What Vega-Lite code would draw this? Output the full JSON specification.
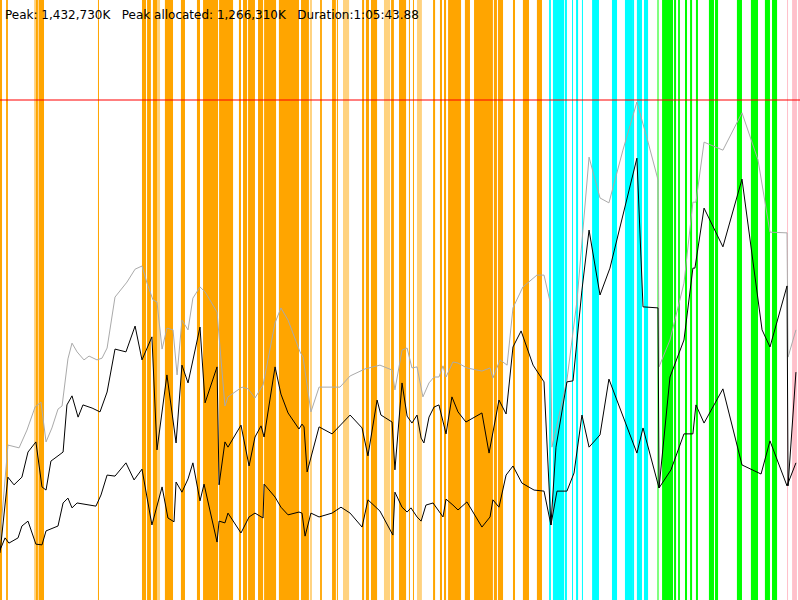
{
  "$schema": "https://vega.github.io/schema/vega-lite/v6.json",
  "width": 800,
  "height": 600,
  "padding": 0,
  "autosize": {"type": "none"},
  "background": "white",
  "title": {
    "text": "Peak: 1,432,730K \u00a0\u00a0Peak allocated: 1,266,310K \u00a0\u00a0Duration:1:05:43.88",
    "anchor": "start",
    "frame": "group",
    "orient": "top",
    "offset": -31,
    "dx": 5,
    "baseline": "alphabetic",
    "font": "DejaVu Sans",
    "fontSize": 12,
    "fontWeight": "normal",
    "color": "black"
  },
  "config": {"view": {"stroke": null}},
  "datasets": {
    "gc": [
      {"kind": "young", "start": 0, "end": 10},
      {"kind": "young", "start": 30, "end": 39},
      {"kind": "young-short", "start": 168, "end": 177},
      {"kind": "young", "start": 177, "end": 187},
      {"kind": "young", "start": 190, "end": 217},
      {"kind": "young", "start": 483, "end": 488},
      {"kind": "young", "start": 700, "end": 720},
      {"kind": "young", "start": 725, "end": 744},
      {"kind": "young", "start": 754, "end": 774},
      {"kind": "young-short", "start": 774, "end": 789},
      {"kind": "young", "start": 813, "end": 853},
      {"kind": "young", "start": 892, "end": 912},
      {"kind": "young", "start": 971, "end": 986},
      {"kind": "young", "start": 1001, "end": 1075},
      {"kind": "young", "start": 1080, "end": 1149},
      {"kind": "young", "start": 1178, "end": 1188},
      {"kind": "young", "start": 1198, "end": 1218},
      {"kind": "young", "start": 1223, "end": 1257},
      {"kind": "young", "start": 1272, "end": 1297},
      {"kind": "young", "start": 1302, "end": 1361},
      {"kind": "young", "start": 1375, "end": 1474},
      {"kind": "young", "start": 1484, "end": 1523},
      {"kind": "young-short", "start": 1528, "end": 1538},
      {"kind": "young", "start": 1578, "end": 1587},
      {"kind": "young", "start": 1637, "end": 1656},
      {"kind": "young", "start": 1661, "end": 1666},
      {"kind": "young-short", "start": 1691, "end": 1721},
      {"kind": "young", "start": 1785, "end": 1795},
      {"kind": "young", "start": 1804, "end": 1819},
      {"kind": "young", "start": 1829, "end": 1859},
      {"kind": "young-short", "start": 1893, "end": 1923},
      {"kind": "young", "start": 1928, "end": 1942},
      {"kind": "young", "start": 1967, "end": 2002},
      {"kind": "young", "start": 2016, "end": 2021},
      {"kind": "young", "start": 2036, "end": 2041},
      {"kind": "young-short", "start": 2056, "end": 2080},
      {"kind": "young", "start": 2135, "end": 2145},
      {"kind": "young", "start": 2169, "end": 2179},
      {"kind": "young", "start": 2189, "end": 2199},
      {"kind": "young", "start": 2209, "end": 2273},
      {"kind": "young", "start": 2292, "end": 2317},
      {"kind": "young", "start": 2337, "end": 2430},
      {"kind": "young", "start": 2435, "end": 2450},
      {"kind": "young", "start": 2455, "end": 2480},
      {"kind": "young", "start": 2529, "end": 2539},
      {"kind": "young", "start": 2578, "end": 2608},
      {"kind": "young", "start": 2647, "end": 2672},
      {"kind": "concurrent", "start": 2707, "end": 2716},
      {"kind": "concurrent", "start": 2726, "end": 2781},
      {"kind": "concurrent", "start": 2785, "end": 2795},
      {"kind": "concurrent", "start": 2820, "end": 2825},
      {"kind": "concurrent", "start": 2840, "end": 2850},
      {"kind": "concurrent", "start": 2869, "end": 2874},
      {"kind": "concurrent", "start": 2919, "end": 2953},
      {"kind": "concurrent", "start": 3017, "end": 3042},
      {"kind": "concurrent", "start": 3081, "end": 3116},
      {"kind": "concurrent", "start": 3116, "end": 3126},
      {"kind": "concurrent", "start": 3140, "end": 3165},
      {"kind": "concurrent", "start": 3175, "end": 3195},
      {"kind": "mixed-short", "start": 3239, "end": 3249},
      {"kind": "mixed", "start": 3264, "end": 3318},
      {"kind": "mixed", "start": 3323, "end": 3333},
      {"kind": "mixed", "start": 3343, "end": 3352},
      {"kind": "mixed", "start": 3377, "end": 3387},
      {"kind": "mixed", "start": 3402, "end": 3412},
      {"kind": "mixed", "start": 3431, "end": 3441},
      {"kind": "mixed", "start": 3495, "end": 3520},
      {"kind": "mixed", "start": 3525, "end": 3540},
      {"kind": "mixed", "start": 3633, "end": 3658},
      {"kind": "mixed", "start": 3702, "end": 3737},
      {"kind": "mixed", "start": 3771, "end": 3796},
      {"kind": "mixed", "start": 3806, "end": 3831},
      {"kind": "full", "start": 3880, "end": 3885},
      {"kind": "full", "start": 3905, "end": 3929},
      {"kind": "full", "start": 3934, "end": 3944}
    ],
    "heap": [
      {"s": "heap", "t": 0, "mb": 172}, {"s": "heap", "t": 39, "mb": 444}, {"s": "heap", "t": 94, "mb": 436},
      {"s": "heap", "t": 133, "mb": 487}, {"s": "heap", "t": 173, "mb": 553}, {"s": "heap", "t": 202, "mb": 567},
      {"s": "heap", "t": 227, "mb": 453}, {"s": "heap", "t": 256, "mb": 493}, {"s": "heap", "t": 286, "mb": 547},
      {"s": "heap", "t": 306, "mb": 556}, {"s": "heap", "t": 335, "mb": 691}, {"s": "heap", "t": 355, "mb": 736},
      {"s": "heap", "t": 380, "mb": 711}, {"s": "heap", "t": 414, "mb": 688}, {"s": "heap", "t": 439, "mb": 699},
      {"s": "heap", "t": 478, "mb": 688}, {"s": "heap", "t": 503, "mb": 693}, {"s": "heap", "t": 528, "mb": 722},
      {"s": "heap", "t": 567, "mb": 868}, {"s": "heap", "t": 626, "mb": 911}, {"s": "heap", "t": 666, "mb": 948},
      {"s": "heap", "t": 700, "mb": 957}, {"s": "heap", "t": 725, "mb": 908}, {"s": "heap", "t": 754, "mb": 860},
      {"s": "heap", "t": 774, "mb": 854}, {"s": "heap", "t": 799, "mb": 719}, {"s": "heap", "t": 823, "mb": 779},
      {"s": "heap", "t": 853, "mb": 774}, {"s": "heap", "t": 873, "mb": 645}, {"s": "heap", "t": 897, "mb": 802},
      {"s": "heap", "t": 927, "mb": 774}, {"s": "heap", "t": 951, "mb": 865}, {"s": "heap", "t": 986, "mb": 897},
      {"s": "heap", "t": 1011, "mb": 883}, {"s": "heap", "t": 1070, "mb": 825}, {"s": "heap", "t": 1094, "mb": 659},
      {"s": "heap", "t": 1109, "mb": 556}, {"s": "heap", "t": 1124, "mb": 582}, {"s": "heap", "t": 1193, "mb": 610},
      {"s": "heap", "t": 1223, "mb": 605}, {"s": "heap", "t": 1257, "mb": 579}, {"s": "heap", "t": 1297, "mb": 616},
      {"s": "heap", "t": 1356, "mb": 794}, {"s": "heap", "t": 1385, "mb": 837}, {"s": "heap", "t": 1420, "mb": 802},
      {"s": "heap", "t": 1479, "mb": 711}, {"s": "heap", "t": 1494, "mb": 696}, {"s": "heap", "t": 1533, "mb": 539},
      {"s": "heap", "t": 1573, "mb": 610}, {"s": "heap", "t": 1676, "mb": 610}, {"s": "heap", "t": 1726, "mb": 642},
      {"s": "heap", "t": 1799, "mb": 662}, {"s": "heap", "t": 1873, "mb": 673}, {"s": "heap", "t": 1933, "mb": 659},
      {"s": "heap", "t": 1947, "mb": 602}, {"s": "heap", "t": 1982, "mb": 716}, {"s": "heap", "t": 2007, "mb": 722},
      {"s": "heap", "t": 2031, "mb": 665}, {"s": "heap", "t": 2056, "mb": 668}, {"s": "heap", "t": 2085, "mb": 582},
      {"s": "heap", "t": 2115, "mb": 622}, {"s": "heap", "t": 2140, "mb": 639}, {"s": "heap", "t": 2164, "mb": 639},
      {"s": "heap", "t": 2184, "mb": 671}, {"s": "heap", "t": 2199, "mb": 639}, {"s": "heap", "t": 2233, "mb": 682},
      {"s": "heap", "t": 2258, "mb": 679}, {"s": "heap", "t": 2302, "mb": 665}, {"s": "heap", "t": 2376, "mb": 656},
      {"s": "heap", "t": 2416, "mb": 665}, {"s": "heap", "t": 2430, "mb": 636}, {"s": "heap", "t": 2465, "mb": 688},
      {"s": "heap", "t": 2500, "mb": 673}, {"s": "heap", "t": 2529, "mb": 837}, {"s": "heap", "t": 2578, "mb": 897},
      {"s": "heap", "t": 2647, "mb": 931}, {"s": "heap", "t": 2682, "mb": 931}, {"s": "heap", "t": 2712, "mb": 854},
      {"s": "heap", "t": 2721, "mb": 438}, {"s": "heap", "t": 2795, "mb": 630}, {"s": "heap", "t": 2845, "mb": 860},
      {"s": "heap", "t": 2904, "mb": 1269}, {"s": "heap", "t": 2958, "mb": 1152}, {"s": "heap", "t": 3002, "mb": 1138},
      {"s": "heap", "t": 3071, "mb": 1289}, {"s": "heap", "t": 3140, "mb": 1427}, {"s": "heap", "t": 3195, "mb": 1312},
      {"s": "heap", "t": 3244, "mb": 1204}, {"s": "heap", "t": 3249, "mb": 668}, {"s": "heap", "t": 3303, "mb": 745},
      {"s": "heap", "t": 3372, "mb": 908}, {"s": "heap", "t": 3416, "mb": 1140}, {"s": "heap", "t": 3431, "mb": 1140},
      {"s": "heap", "t": 3471, "mb": 1312}, {"s": "heap", "t": 3564, "mb": 1289}, {"s": "heap", "t": 3658, "mb": 1396},
      {"s": "heap", "t": 3737, "mb": 1261}, {"s": "heap", "t": 3796, "mb": 1054}, {"s": "heap", "t": 3880, "mb": 1052},
      {"s": "heap", "t": 3885, "mb": 696}, {"s": "heap", "t": 3924, "mb": 774},

      {"s": "before GC", "t": 0, "mb": 135}, {"s": "before GC", "t": 39, "mb": 352}, {"s": "before GC", "t": 69, "mb": 330},
      {"s": "before GC", "t": 108, "mb": 352}, {"s": "before GC", "t": 138, "mb": 424}, {"s": "before GC", "t": 177, "mb": 453},
      {"s": "before GC", "t": 207, "mb": 324}, {"s": "before GC", "t": 227, "mb": 315}, {"s": "before GC", "t": 251, "mb": 398},
      {"s": "before GC", "t": 286, "mb": 413}, {"s": "before GC", "t": 311, "mb": 424}, {"s": "before GC", "t": 330, "mb": 559},
      {"s": "before GC", "t": 355, "mb": 585}, {"s": "before GC", "t": 385, "mb": 524}, {"s": "before GC", "t": 409, "mb": 559},
      {"s": "before GC", "t": 454, "mb": 550}, {"s": "before GC", "t": 493, "mb": 539}, {"s": "before GC", "t": 528, "mb": 596},
      {"s": "before GC", "t": 567, "mb": 719}, {"s": "before GC", "t": 621, "mb": 711}, {"s": "before GC", "t": 666, "mb": 785},
      {"s": "before GC", "t": 700, "mb": 688}, {"s": "before GC", "t": 749, "mb": 754}, {"s": "before GC", "t": 774, "mb": 430},
      {"s": "before GC", "t": 823, "mb": 645}, {"s": "before GC", "t": 868, "mb": 450}, {"s": "before GC", "t": 897, "mb": 673},
      {"s": "before GC", "t": 927, "mb": 622}, {"s": "before GC", "t": 986, "mb": 782}, {"s": "before GC", "t": 1011, "mb": 565},
      {"s": "before GC", "t": 1070, "mb": 668}, {"s": "before GC", "t": 1080, "mb": 330}, {"s": "before GC", "t": 1109, "mb": 453},
      {"s": "before GC", "t": 1124, "mb": 438}, {"s": "before GC", "t": 1188, "mb": 501}, {"s": "before GC", "t": 1228, "mb": 384},
      {"s": "before GC", "t": 1257, "mb": 467}, {"s": "before GC", "t": 1287, "mb": 499}, {"s": "before GC", "t": 1302, "mb": 467},
      {"s": "before GC", "t": 1356, "mb": 668}, {"s": "before GC", "t": 1385, "mb": 590}, {"s": "before GC", "t": 1420, "mb": 536},
      {"s": "before GC", "t": 1474, "mb": 490}, {"s": "before GC", "t": 1489, "mb": 504}, {"s": "before GC", "t": 1499, "mb": 496},
      {"s": "before GC", "t": 1514, "mb": 367}, {"s": "before GC", "t": 1573, "mb": 496}, {"s": "before GC", "t": 1637, "mb": 476},
      {"s": "before GC", "t": 1726, "mb": 530}, {"s": "before GC", "t": 1785, "mb": 493}, {"s": "before GC", "t": 1814, "mb": 413},
      {"s": "before GC", "t": 1859, "mb": 573}, {"s": "before GC", "t": 1878, "mb": 530}, {"s": "before GC", "t": 1933, "mb": 510},
      {"s": "before GC", "t": 1947, "mb": 373}, {"s": "before GC", "t": 1982, "mb": 622}, {"s": "before GC", "t": 2007, "mb": 527},
      {"s": "before GC", "t": 2031, "mb": 507}, {"s": "before GC", "t": 2056, "mb": 530}, {"s": "before GC", "t": 2076, "mb": 464},
      {"s": "before GC", "t": 2090, "mb": 450}, {"s": "before GC", "t": 2115, "mb": 524}, {"s": "before GC", "t": 2140, "mb": 553},
      {"s": "before GC", "t": 2164, "mb": 559}, {"s": "before GC", "t": 2199, "mb": 476}, {"s": "before GC", "t": 2228, "mb": 582},
      {"s": "before GC", "t": 2258, "mb": 539}, {"s": "before GC", "t": 2297, "mb": 510}, {"s": "before GC", "t": 2376, "mb": 536},
      {"s": "before GC", "t": 2411, "mb": 421}, {"s": "before GC", "t": 2460, "mb": 573}, {"s": "before GC", "t": 2495, "mb": 533},
      {"s": "before GC", "t": 2529, "mb": 725}, {"s": "before GC", "t": 2569, "mb": 771}, {"s": "before GC", "t": 2628, "mb": 673},
      {"s": "before GC", "t": 2682, "mb": 625}, {"s": "before GC", "t": 2716, "mb": 215}, {"s": "before GC", "t": 2741, "mb": 438},
      {"s": "before GC", "t": 2795, "mb": 625}, {"s": "before GC", "t": 2825, "mb": 628}, {"s": "before GC", "t": 2869, "mb": 888},
      {"s": "before GC", "t": 2904, "mb": 1060}, {"s": "before GC", "t": 2958, "mb": 874}, {"s": "before GC", "t": 3007, "mb": 951},
      {"s": "before GC", "t": 3140, "mb": 1266}, {"s": "before GC", "t": 3170, "mb": 840}, {"s": "before GC", "t": 3244, "mb": 837},
      {"s": "before GC", "t": 3249, "mb": 321}, {"s": "before GC", "t": 3303, "mb": 639}, {"s": "before GC", "t": 3372, "mb": 745},
      {"s": "before GC", "t": 3416, "mb": 951}, {"s": "before GC", "t": 3426, "mb": 951}, {"s": "before GC", "t": 3471, "mb": 1123},
      {"s": "before GC", "t": 3564, "mb": 1012}, {"s": "before GC", "t": 3658, "mb": 1206}, {"s": "before GC", "t": 3757, "mb": 774},
      {"s": "before GC", "t": 3796, "mb": 725}, {"s": "before GC", "t": 3880, "mb": 900}, {"s": "before GC", "t": 3885, "mb": 327},
      {"s": "before GC", "t": 3924, "mb": 653},

      {"s": "after GC", "t": 0, "mb": 143}, {"s": "after GC", "t": 25, "mb": 178}, {"s": "after GC", "t": 44, "mb": 163},
      {"s": "after GC", "t": 89, "mb": 178}, {"s": "after GC", "t": 108, "mb": 212}, {"s": "after GC", "t": 138, "mb": 226},
      {"s": "after GC", "t": 177, "mb": 160}, {"s": "after GC", "t": 207, "mb": 158}, {"s": "after GC", "t": 227, "mb": 198},
      {"s": "after GC", "t": 286, "mb": 212}, {"s": "after GC", "t": 311, "mb": 278}, {"s": "after GC", "t": 335, "mb": 292},
      {"s": "after GC", "t": 355, "mb": 264}, {"s": "after GC", "t": 380, "mb": 278}, {"s": "after GC", "t": 473, "mb": 269},
      {"s": "after GC", "t": 498, "mb": 301}, {"s": "after GC", "t": 528, "mb": 358}, {"s": "after GC", "t": 567, "mb": 355},
      {"s": "after GC", "t": 621, "mb": 393}, {"s": "after GC", "t": 661, "mb": 344}, {"s": "after GC", "t": 700, "mb": 375},
      {"s": "after GC", "t": 749, "mb": 215}, {"s": "after GC", "t": 799, "mb": 324}, {"s": "after GC", "t": 828, "mb": 235},
      {"s": "after GC", "t": 858, "mb": 224}, {"s": "after GC", "t": 868, "mb": 338}, {"s": "after GC", "t": 897, "mb": 309},
      {"s": "after GC", "t": 927, "mb": 347}, {"s": "after GC", "t": 951, "mb": 393}, {"s": "after GC", "t": 986, "mb": 284},
      {"s": "after GC", "t": 1006, "mb": 332}, {"s": "after GC", "t": 1070, "mb": 166}, {"s": "after GC", "t": 1080, "mb": 226},
      {"s": "after GC", "t": 1109, "mb": 221}, {"s": "after GC", "t": 1124, "mb": 249}, {"s": "after GC", "t": 1188, "mb": 192},
      {"s": "after GC", "t": 1228, "mb": 238}, {"s": "after GC", "t": 1257, "mb": 249}, {"s": "after GC", "t": 1297, "mb": 235},
      {"s": "after GC", "t": 1302, "mb": 332}, {"s": "after GC", "t": 1356, "mb": 295}, {"s": "after GC", "t": 1385, "mb": 266},
      {"s": "after GC", "t": 1420, "mb": 244}, {"s": "after GC", "t": 1474, "mb": 252}, {"s": "after GC", "t": 1489, "mb": 249},
      {"s": "after GC", "t": 1504, "mb": 183}, {"s": "after GC", "t": 1533, "mb": 249}, {"s": "after GC", "t": 1573, "mb": 238},
      {"s": "after GC", "t": 1637, "mb": 249}, {"s": "after GC", "t": 1681, "mb": 266}, {"s": "after GC", "t": 1726, "mb": 249},
      {"s": "after GC", "t": 1785, "mb": 209}, {"s": "after GC", "t": 1814, "mb": 287}, {"s": "after GC", "t": 1873, "mb": 255},
      {"s": "after GC", "t": 1937, "mb": 186}, {"s": "after GC", "t": 1947, "mb": 309}, {"s": "after GC", "t": 1982, "mb": 266},
      {"s": "after GC", "t": 2007, "mb": 252}, {"s": "after GC", "t": 2026, "mb": 264}, {"s": "after GC", "t": 2056, "mb": 238},
      {"s": "after GC", "t": 2076, "mb": 226}, {"s": "after GC", "t": 2100, "mb": 272}, {"s": "after GC", "t": 2135, "mb": 278},
      {"s": "after GC", "t": 2184, "mb": 238}, {"s": "after GC", "t": 2199, "mb": 289}, {"s": "after GC", "t": 2233, "mb": 272},
      {"s": "after GC", "t": 2258, "mb": 258}, {"s": "after GC", "t": 2302, "mb": 281}, {"s": "after GC", "t": 2376, "mb": 209},
      {"s": "after GC", "t": 2416, "mb": 238}, {"s": "after GC", "t": 2430, "mb": 287}, {"s": "after GC", "t": 2460, "mb": 266},
      {"s": "after GC", "t": 2495, "mb": 358}, {"s": "after GC", "t": 2529, "mb": 384}, {"s": "after GC", "t": 2573, "mb": 335},
      {"s": "after GC", "t": 2633, "mb": 315}, {"s": "after GC", "t": 2682, "mb": 312}, {"s": "after GC", "t": 2716, "mb": 215},
      {"s": "after GC", "t": 2746, "mb": 312}, {"s": "after GC", "t": 2795, "mb": 312}, {"s": "after GC", "t": 2830, "mb": 364},
      {"s": "after GC", "t": 2869, "mb": 530}, {"s": "after GC", "t": 2904, "mb": 438}, {"s": "after GC", "t": 2958, "mb": 473},
      {"s": "after GC", "t": 3002, "mb": 633}, {"s": "after GC", "t": 3140, "mb": 421}, {"s": "after GC", "t": 3170, "mb": 493},
      {"s": "after GC", "t": 3249, "mb": 321}, {"s": "after GC", "t": 3308, "mb": 373}, {"s": "after GC", "t": 3372, "mb": 476},
      {"s": "after GC", "t": 3416, "mb": 476}, {"s": "after GC", "t": 3431, "mb": 559}, {"s": "after GC", "t": 3471, "mb": 507},
      {"s": "after GC", "t": 3564, "mb": 605}, {"s": "after GC", "t": 3658, "mb": 387}, {"s": "after GC", "t": 3752, "mb": 361},
      {"s": "after GC", "t": 3796, "mb": 456}, {"s": "after GC", "t": 3880, "mb": 327}, {"s": "after GC", "t": 3924, "mb": 393}
    ],
    "peak": [{"mb": 1432.73}]
  },
  "layer": [
    {
      "data": {"name": "gc"},
      "mark": {"type": "rect"},
      "encoding": {
        "x": {"field": "start", "type": "quantitative", "scale": {"domain": [0, 3944], "nice": false, "zero": false}, "axis": null},
        "x2": {"field": "end"},
        "color": {
          "field": "kind",
          "type": "nominal",
          "scale": {
            "domain": ["young", "young-short", "concurrent", "mixed", "mixed-short", "full"],
            "range": ["#FFA500", "#FFD27F", "#00FFFF", "#00FF00", "#80FF80", "#FFC0CB"]
          },
          "legend": null
        }
      }
    },
    {
      "data": {"name": "heap"},
      "mark": {"type": "line", "strokeWidth": 1},
      "encoding": {
        "x": {"field": "t", "type": "quantitative", "axis": null},
        "y": {"field": "mb", "type": "quantitative", "scale": {"domain": [0, 1719.3], "nice": false}, "axis": null},
        "detail": {"field": "s"},
        "stroke": {
          "field": "s",
          "type": "nominal",
          "scale": {"domain": ["heap", "before GC", "after GC"], "range": ["#AAAAAA", "#000000", "#000000"]},
          "legend": null
        }
      }
    },
    {
      "data": {"name": "peak"},
      "mark": {"type": "rule", "color": "#FF0000", "opacity": 0.5, "strokeWidth": 2},
      "encoding": {
        "y": {"field": "mb", "type": "quantitative", "axis": null}
      }
    }
  ],
  "resolve": {"scale": {"color": "independent", "stroke": "independent"}}
}
